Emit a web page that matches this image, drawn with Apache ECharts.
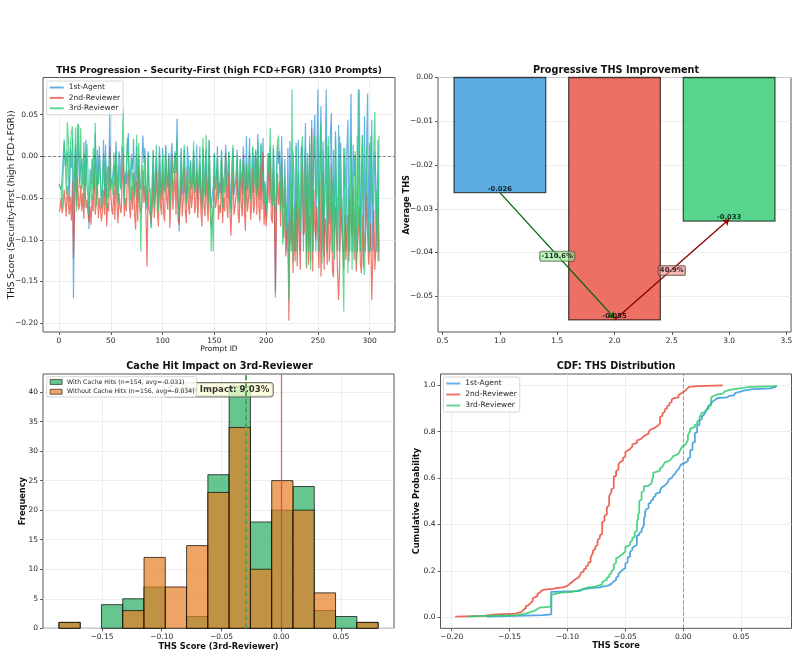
<!DOCTYPE html>
<html>
<head>
<meta charset="utf-8">
<script src="https://cdn.jsdelivr.net/npm/echarts@6.0.0/dist/echarts.min.js"></script>
<style>
html,body{margin:0;padding:0;background:#ffffff;}
#chart{width:799px;height:657px;}
</style>
</head>
<body>
<div id="chart"></div>
<script>
// ---------------- DATA ----------------
const seriesNames = ['1st-Agent', '2nd-Reviewer', '3rd-Reviewer'];

const agent1 = [
-0.033,-0.035,-0.040,-0.026,-0.024,0.020,-0.012,-0.013,0.006,-0.033,
-0.055,0.010,-0.014,0.022,-0.170,-0.020,0.014,-0.045,0.039,-0.007,
-0.033,-0.010,-0.002,-0.034,0.017,-0.034,0.020,-0.035,-0.048,-0.087,
-0.015,-0.033,-0.003,-0.030,-0.040,0.028,-0.045,0.008,-0.033,0.012,
-0.025,-0.062,-0.035,0.020,-0.048,0.014,-0.058,-0.012,-0.040,0.052,
-0.028,-0.034,-0.034,-0.010,-0.033,0.018,-0.013,-0.055,0.006,-0.006,
-0.040,0.012,0.008,-0.048,-0.020,-0.033,0.010,0.028,-0.038,-0.019,
-0.002,-0.016,0.021,-0.046,-0.030,0.012,-0.054,-0.003,-0.034,-0.040,
-0.042,0.025,-0.008,0.010,-0.050,-0.064,0.006,-0.036,-0.046,-0.085,
-0.032,0.008,-0.056,-0.024,-0.001,-0.044,-0.060,0.012,-0.034,-0.048,
0.010,-0.040,-0.034,0.014,-0.026,-0.036,0.004,-0.058,-0.006,0.016,
-0.014,-0.020,0.006,-0.020,0.045,-0.050,-0.090,-0.034,0.010,-0.046,
-0.026,0.008,-0.042,-0.056,0.012,-0.008,-0.033,-0.004,-0.038,-0.022,
0.006,-0.044,-0.034,0.014,-0.052,-0.028,-0.006,-0.040,-0.060,0.010,
-0.012,-0.046,0.008,-0.030,-0.054,0.019,-0.040,-0.062,-0.048,-0.034,
0.004,-0.038,-0.026,0.012,-0.050,-0.032,-0.044,0.008,-0.058,-0.028,
-0.018,0.014,-0.034,-0.050,0.006,-0.040,-0.064,-0.007,0.010,-0.046,
-0.036,-0.024,0.008,-0.044,-0.054,-0.002,-0.032,-0.046,0.012,-0.015,
-0.058,0.024,-0.040,-0.028,0.022,-0.050,-0.036,0.010,-0.044,-0.005,
0.008,-0.046,0.027,-0.034,-0.052,0.016,-0.038,0.022,-0.056,-0.030,
-0.072,-0.040,0.004,-0.030,0.012,-0.048,-0.058,0.010,-0.036,-0.169,
-0.019,0.014,-0.009,0.006,-0.056,0.024,-0.040,-0.062,-0.003,-0.050,
-0.114,0.010,-0.114,0.018,-0.040,-0.114,0.006,-0.030,-0.114,0.016,
-0.114,0.020,-0.050,-0.114,0.012,0.008,-0.114,-0.020,0.040,-0.114,
0.004,-0.114,0.014,-0.066,0.044,-0.114,0.022,0.050,-0.114,0.002,
0.080,-0.114,0.010,0.060,-0.114,0.018,-0.121,-0.010,0.080,-0.114,
0.012,-0.080,0.024,0.052,-0.114,0.008,-0.114,0.030,-0.050,-0.114,
0.038,-0.114,0.016,-0.070,-0.114,0.010,-0.036,-0.114,0.006,0.044,
-0.114,-0.004,0.075,-0.114,0.014,-0.024,0.002,-0.090,-0.114,0.080,
0.010,-0.114,-0.020,0.026,-0.114,0.048,-0.114,0.004,0.075,-0.114,
0.016,-0.114,0.044,-0.114,-0.048,0.006,-0.030,-0.114,0.020,-0.114
];

const reviewer2 = [
-0.066,-0.063,-0.050,-0.068,-0.061,-0.040,-0.056,-0.072,-0.036,-0.057,
-0.070,-0.048,-0.077,-0.030,-0.122,-0.074,0.002,-0.060,-0.025,-0.064,
-0.058,-0.034,-0.066,-0.044,-0.075,-0.020,-0.062,-0.052,-0.068,-0.079,
-0.060,-0.082,-0.045,-0.066,-0.012,-0.070,-0.055,-0.024,-0.074,-0.050,
-0.052,-0.078,-0.064,-0.040,-0.070,-0.018,-0.084,-0.056,-0.066,0.012,
-0.046,-0.064,-0.070,-0.030,-0.076,-0.010,-0.058,-0.080,-0.044,-0.062,
-0.068,-0.032,0.003,-0.072,-0.050,-0.066,-0.026,-0.016,-0.060,-0.074,
-0.036,-0.064,-0.020,-0.070,-0.088,-0.030,-0.078,-0.014,-0.062,-0.068,
-0.060,-0.016,-0.056,-0.034,-0.072,-0.132,-0.040,-0.064,-0.070,-0.080,
-0.062,-0.022,-0.074,-0.050,-0.018,-0.066,-0.084,-0.012,-0.058,-0.070,
-0.020,-0.068,-0.078,-0.010,-0.052,-0.064,-0.002,-0.086,-0.056,0.003,
-0.064,-0.044,-0.018,-0.070,-0.004,-0.076,-0.082,-0.060,-0.022,-0.072,
-0.052,-0.014,-0.066,-0.080,-0.016,-0.058,-0.070,-0.028,-0.062,-0.046,
0.001,-0.068,-0.060,-0.018,-0.074,-0.050,-0.012,-0.064,-0.084,-0.020,
-0.060,-0.072,-0.020,-0.056,-0.078,-0.008,-0.064,-0.086,-0.074,-0.066,
-0.024,-0.062,-0.054,-0.014,-0.076,-0.058,-0.068,-0.003,-0.080,-0.050,
-0.066,0.004,-0.058,-0.074,-0.020,-0.064,-0.095,-0.056,-0.012,-0.070,
-0.060,-0.048,-0.016,-0.070,-0.080,-0.022,-0.058,-0.072,0.002,-0.064,
-0.089,-0.012,-0.066,-0.052,-0.018,-0.076,-0.060,-0.014,-0.068,-0.056,
-0.002,-0.070,-0.004,-0.060,-0.078,-0.010,-0.064,0.005,-0.082,-0.054,
-0.084,-0.064,-0.018,-0.056,-0.001,-0.074,-0.080,-0.020,-0.066,-0.162,
-0.070,-0.020,-0.058,-0.030,-0.084,-0.004,-0.068,-0.098,-0.040,-0.120,
-0.090,-0.078,-0.197,-0.066,-0.104,-0.030,-0.140,-0.080,-0.126,-0.050,
-0.132,-0.060,-0.096,-0.136,-0.044,-0.010,-0.094,-0.090,-0.004,-0.134,
-0.020,-0.130,-0.070,-0.126,0.034,-0.138,-0.040,-0.086,-0.100,-0.060,
-0.060,-0.134,-0.030,-0.144,-0.086,-0.020,-0.136,-0.074,-0.092,-0.130,
-0.040,-0.126,-0.100,-0.010,-0.136,-0.145,-0.090,-0.060,-0.098,-0.140,
-0.172,-0.130,-0.056,-0.082,-0.104,-0.134,-0.070,-0.124,-0.088,-0.070,
-0.126,-0.050,-0.080,-0.096,-0.036,-0.124,-0.064,-0.138,-0.112,-0.094,
-0.060,-0.128,-0.140,-0.070,-0.132,-0.100,-0.088,-0.044,-0.092,-0.130,
-0.130,-0.080,-0.172,-0.124,-0.064,-0.136,-0.110,-0.076,-0.060,-0.125
];

const reviewer3 = [
-0.034,-0.036,-0.039,-0.062,-0.020,0.016,-0.003,-0.045,0.041,0.022,
-0.038,0.012,0.030,0.036,-0.058,-0.012,0.035,-0.066,0.004,0.038,
-0.038,0.034,-0.040,-0.012,-0.060,0.003,-0.036,0.015,-0.018,-0.070,
-0.042,-0.026,-0.052,0.010,-0.038,0.040,-0.060,-0.017,-0.034,-0.002,
-0.027,-0.064,-0.039,0.004,-0.038,-0.004,-0.062,-0.038,-0.050,0.002,
-0.040,-0.026,-0.046,0.005,-0.037,0.006,-0.042,-0.058,-0.009,-0.036,
-0.039,0.014,0.057,-0.058,-0.025,-0.016,0.022,-0.002,-0.040,-0.054,
0.003,-0.040,-0.019,-0.050,-0.036,0.026,-0.060,0.016,-0.027,-0.114,
-0.040,-0.010,-0.046,0.000,-0.038,-0.060,0.004,-0.042,-0.038,-0.086,
-0.036,0.006,-0.062,-0.026,0.014,-0.040,-0.066,0.004,-0.038,-0.052,
0.002,-0.044,-0.039,0.012,-0.027,-0.038,-0.002,-0.064,-0.040,-0.004,
-0.042,-0.028,0.004,-0.020,0.022,-0.056,-0.074,-0.036,0.005,-0.037,
-0.025,0.014,-0.039,-0.058,-0.011,-0.036,-0.050,-0.006,-0.040,-0.028,
0.018,-0.042,-0.038,-0.016,-0.039,-0.026,0.012,-0.044,-0.064,0.022,
-0.038,-0.048,0.026,-0.034,-0.058,0.020,-0.038,-0.114,-0.060,-0.114,
0.003,-0.040,-0.027,-0.001,-0.052,-0.036,-0.018,0.006,-0.062,-0.026,
-0.044,-0.005,-0.036,-0.038,0.005,-0.042,-0.068,-0.034,0.014,-0.039,
-0.040,-0.028,0.002,-0.046,-0.056,-0.004,-0.036,-0.038,-0.003,-0.042,
-0.062,-0.008,-0.042,-0.027,0.004,-0.054,-0.040,0.012,-0.020,-0.034,
0.006,-0.048,0.018,-0.038,-0.039,0.014,-0.042,-0.017,-0.058,-0.034,
-0.064,-0.039,0.004,-0.026,0.034,-0.050,-0.060,0.014,-0.040,-0.070,
-0.038,0.018,0.025,-0.010,-0.066,-0.002,-0.106,-0.094,-0.026,-0.090,
-0.056,-0.096,-0.172,-0.030,-0.114,0.080,-0.126,-0.060,-0.114,0.012,
-0.114,-0.018,-0.070,-0.090,0.004,0.024,-0.076,-0.040,0.010,-0.132,
-0.010,-0.114,0.024,-0.136,0.016,-0.114,0.000,0.024,-0.046,-0.050,
0.024,-0.114,-0.030,0.040,-0.128,0.008,-0.070,-0.044,0.020,-0.114,
0.024,-0.082,-0.060,-0.016,-0.114,-0.026,-0.124,0.024,-0.070,-0.114,
-0.114,0.024,-0.064,-0.050,-0.116,-0.186,0.010,-0.036,-0.040,-0.140,
-0.046,-0.114,0.024,-0.136,-0.020,-0.114,0.006,-0.128,0.024,-0.084,
0.080,-0.114,-0.060,0.024,-0.130,-0.142,-0.074,0.012,-0.066,-0.114,
-0.050,0.024,-0.034,-0.058,0.010,0.053,-0.114,-0.040,-0.126,0.025
];

const barPositions = [1, 2, 3];
const avgTHS = [-0.0263, -0.0554, -0.0328];
const changeLabels = ['-110.6%', '40.9%'];

const histEdges = [-0.186, -0.1682, -0.1504, -0.1326, -0.1148, -0.097, -0.0792, -0.0614, -0.0436, -0.0258, -0.008, 0.0098, 0.0276, 0.0454, 0.0632, 0.081];
const withCacheCounts    = [1, 0, 4, 5, 7, 0, 2, 26, 41, 18, 20, 24, 3, 2, 1];
const withoutCacheCounts = [1, 0, 0, 3, 12, 7, 14, 23, 34, 10, 25, 20, 6, 0, 1];
const cacheMeans = [-0.031, -0.034];
const impactPct = '9.03%';

const progTicksX = [0, 50, 100, 150, 200, 250, 300];
const progTicksY = [-0.2, -0.15, -0.1, -0.05, 0, 0.05];
const barTicksX = [0.5, 1, 1.5, 2, 2.5, 3, 3.5];
const barTicksY = [-0.05, -0.04, -0.03, -0.02, -0.01, 0];
const histTicksX = [-0.15, -0.1, -0.05, 0, 0.05];
const histTicksY = [0, 5, 10, 15, 20, 25, 30, 35, 40];
const cdfTicksX = [-0.2, -0.15, -0.1, -0.05, 0, 0.05];
const cdfTicksY = [0, 0.2, 0.4, 0.6, 0.8, 1.0];

// ---------------- STYLE / LAYOUT ----------------
const FONT = 'DejaVu Sans';
const lineColors = ['#3498db', '#e74c3c', '#2ecc71'];
const lineColorsA = ['rgba(52,152,219,0.75)', 'rgba(231,76,60,0.75)', 'rgba(46,204,113,0.75)'];
const barFill = ['rgba(52,152,219,0.8)', 'rgba(231,76,60,0.8)', 'rgba(46,204,113,0.8)'];
const histFill = ['rgba(39,174,96,0.7)', 'rgba(230,126,34,0.7)'];
const histLine = ['#27ae60', '#e67e22'];

const lim = {
  progX: [-15.45, 324.45], progY: [-0.2105, 0.0945],
  barX: [0.46, 3.54], barY: [-0.05816, 0],
  histX: [-0.1993, 0.0943], histY: [0, 43.05],
  cdfX: [-0.2097, 0.0935], cdfY: [-0.0474, 1.0487]
};

const minus = (s) => s.replace('-', '\u2212');
const fmt = (d) => (v) => minus((Math.abs(v) < 1e-12 ? 0 : v).toFixed(d));

function axis(gridIndex, range, ticks, digits, extra) {
  return Object.assign({
    type: 'value', gridIndex: gridIndex, min: range[0], max: range[1],
    axisLine: { show: false, onZero: false },
    axisTick: { show: true, length: 3, lineStyle: { color: '#333', width: 0.8 }, customValues: ticks },
    axisLabel: { color: '#262626', fontSize: 7.5, fontFamily: FONT, margin: 5, customValues: ticks, formatter: fmt(digits), hideOverlap: false, showMinLabel: true, showMaxLabel: true },
    splitLine: { show: true, lineStyle: { color: '#e9e9e9', width: 0.8 } },
    nameLocation: 'middle',
    nameMoveOverlap: false,
    nameTextStyle: { fontFamily: FONT, fontSize: 7.5, color: '#1a1a1a' }
  }, extra || {});
}
const boldName = { fontFamily: FONT, fontSize: 8.25, fontWeight: 'bold', color: '#111' };

// CDF from the series data
function cdf(arr) {
  const s = arr.slice().sort((a, b) => a - b);
  return s.map((v, i) => [v, (i + 1) / s.length]);
}

const lineArrays = [agent1, reviewer2, reviewer3];

const series = [];

// Panel 1: progression lines
lineArrays.forEach((arr, k) => {
  const s = {
    name: seriesNames[k], type: 'line', xAxisIndex: 0, yAxisIndex: 0,
    data: arr.map((v, i) => [i, v]), showSymbol: false, symbol: 'none',
    lineStyle: { color: lineColors[k], width: 1.2, opacity: 0.75 },
    itemStyle: { color: lineColors[k] }, z: 2 + k
  };
  if (k === 0) {
    s.markLine = { silent: true, symbol: 'none', label: { show: false },
      lineStyle: { color: 'rgba(0,0,0,0.55)', width: 0.8, type: [3, 2] },
      data: [{ yAxis: 0 }] };
  }
  series.push(s);
});

// Panel 2: average bars
series.push({
  type: 'custom', xAxisIndex: 1, yAxisIndex: 1,
  data: avgTHS.map((v, i) => [barPositions[i], v, i]),
  renderItem: (params, api) => {
    const x = api.value(0), v = api.value(1), idx = api.value(2);
    const a = api.coord([x - 0.4, 0]), b = api.coord([x + 0.4, v]);
    return { type: 'rect', shape: { x: a[0], y: Math.min(a[1], b[1]), width: b[0] - a[0], height: Math.abs(b[1] - a[1]) },
      style: { fill: barFill[idx], stroke: 'rgba(0,0,0,0.65)', lineWidth: 1.3 } };
  }, z: 2
});
series.push({
  type: 'scatter', xAxisIndex: 1, yAxisIndex: 1, symbolSize: 0, z: 5,
  data: avgTHS.map((v, i) => [barPositions[i], v]),
  label: { show: true, position: 'top', distance: 0, formatter: (p) => p.value[1].toFixed(3),
    fontFamily: FONT, fontSize: 6.8, fontWeight: 'bold', color: '#000' }
});
const changeBg = ['rgba(144,238,144,0.75)', 'rgba(240,128,128,0.7)'];
const arrowColors = ['#006400', '#8b0000'];
for (let k = 0; k < 2; k++) {
  const x0 = barPositions[k], x1 = barPositions[k + 1];
  const y0 = avgTHS[k], y1 = avgTHS[k + 1];
  series.push({
    type: 'scatter', xAxisIndex: 1, yAxisIndex: 1, symbolSize: 0, z: 6,
    data: [[(x0 + x1) / 2, (y0 + y1) / 2]],
    label: { show: true, position: 'inside', formatter: changeLabels[k], fontFamily: FONT, fontSize: 6.9, fontWeight: 'bold', color: '#000',
      backgroundColor: changeBg[k], borderColor: 'rgba(60,60,60,0.8)', borderWidth: 0.8, borderRadius: 2, padding: [1.5, 1.5, 1, 1.5] },
    markLine: { silent: true, symbol: ['none', 'arrow'], symbolSize: 6, label: { show: false },
      lineStyle: { color: arrowColors[k], width: 1.3, type: 'solid' }, itemStyle: { color: arrowColors[k] },
      data: [[{ coord: [x0, y0] }, { coord: [x1, y1 + 0.0004] }]] }
  });
}

// Panel 3: histogram
const histNames = [
  'With Cache Hits (n=' + withCacheCounts.reduce((a, b) => a + b, 0) + ', avg=' + cacheMeans[0].toFixed(3) + ')',
  'Without Cache Hits (n=' + withoutCacheCounts.reduce((a, b) => a + b, 0) + ', avg=' + cacheMeans[1].toFixed(3) + ')'
];
[withCacheCounts, withoutCacheCounts].forEach((counts, k) => {
  const s = {
    name: histNames[k], type: 'custom', xAxisIndex: 2, yAxisIndex: 2, z: 2 + k,
    itemStyle: { color: histFill[k] },
    data: counts.map((c, i) => [histEdges[i], histEdges[i + 1], c]).filter(d => d[2] > 0),
    renderItem: (params, api) => {
      const a = api.coord([api.value(0), 0]), b = api.coord([api.value(1), api.value(2)]);
      return { type: 'rect', shape: { x: a[0], y: b[1], width: b[0] - a[0], height: a[1] - b[1] },
        style: { fill: histFill[k], stroke: 'rgba(0,0,0,0.7)', lineWidth: 1 } };
    }
  };
  if (k === 1) {
    s.markLine = { silent: true, symbol: 'none', label: { show: false },
      data: [
        { xAxis: cacheMeans[1], lineStyle: { color: histLine[1], width: 1.6, type: [5, 3] } },
        { xAxis: cacheMeans[0], lineStyle: { color: histLine[0], width: 1.6, type: [5, 3] } },
        { xAxis: 0, lineStyle: { color: 'rgba(231,60,50,0.85)', width: 1.2, type: 'solid' } }
      ] };
  }
  series.push(s);
});
series.push({
  type: 'scatter', xAxisIndex: 2, yAxisIndex: 2, symbolSize: 0, z: 3,
  data: [[(lim.histX[0] + lim.histX[1]) / 2, lim.histY[1] * 0.938]],
  label: { show: true, position: 'inside', formatter: 'Cache Impact: ' + impactPct, fontFamily: FONT, fontSize: 8.6, fontWeight: 'bold', color: '#000',
    backgroundColor: 'rgba(255,255,215,0.9)', borderColor: '#555', borderWidth: 1, borderRadius: 3, padding: [2.5, 3.5, 2, 3.5] }
});

// Panel 4: CDF
lineArrays.forEach((arr, k) => {
  const s = {
    name: seriesNames[k], type: 'line', xAxisIndex: 3, yAxisIndex: 3,
    data: cdf(arr), showSymbol: false, symbol: 'none',
    lineStyle: { color: lineColors[k], width: 1.8, opacity: 0.85 },
    itemStyle: { color: lineColors[k] }, z: 2 + k
  };
  if (k === 0) {
    s.markLine = { silent: true, symbol: 'none', label: { show: false },
      lineStyle: { color: 'rgba(231,76,60,0.7)', width: 1, type: [4, 2] },
      data: [{ xAxis: 0 }] };
  }
  series.push(s);
});

const legendBase = {
  orient: 'vertical', selectedMode: false, icon: 'rect',
  itemWidth: 14, itemHeight: 2, itemGap: 1.4,
  padding: [2, 3, 2, 3],
  backgroundColor: 'rgba(255,255,255,0.85)', borderColor: '#cccccc', borderWidth: 0.8, borderRadius: 2,
  textStyle: { fontFamily: FONT, fontSize: 7.5, color: '#262626', lineHeight: 9 }, z: 10
};
const titleStyle = { fontFamily: FONT, fontSize: 9.7, fontWeight: 'bold', color: '#111' };
const titleStyleSmall = Object.assign({}, titleStyle, { fontSize: 9.05 });

const option = {
  animation: false,
  backgroundColor: '#ffffff',
  title: [
    { text: 'THS Progression - Security-First (high FCD+FGR) (310 Prompts)', left: 219, top: 70.5, textAlign: 'center', textVerticalAlign: 'middle', padding: 0, textStyle: titleStyleSmall },
    { text: 'Progressive THS Improvement', left: 616, top: 70.5, textAlign: 'center', textVerticalAlign: 'middle', padding: 0, textStyle: titleStyle },
    { text: 'Cache Hit Impact on 3rd-Reviewer', left: 219.5, top: 366, textAlign: 'center', textVerticalAlign: 'middle', padding: 0, textStyle: titleStyle },
    { text: 'CDF: THS Distribution', left: 616, top: 366, textAlign: 'center', textVerticalAlign: 'middle', padding: 0, textStyle: titleStyle }
  ],
  grid: [
    { left: 43, top: 77.5, width: 352, height: 254.5, show: true, borderColor: '#555', borderWidth: 1, backgroundColor: 'transparent' },
    { left: 438, top: 77.5, width: 353, height: 254.5, show: true, borderColor: '#555', borderWidth: 1, backgroundColor: 'transparent' },
    { left: 43, top: 374, width: 351, height: 254.3, show: true, borderColor: '#555', borderWidth: 1, backgroundColor: 'transparent' },
    { left: 440.5, top: 374, width: 351, height: 254.3, show: true, borderColor: '#555', borderWidth: 1, backgroundColor: 'transparent' }
  ],
  xAxis: [
    axis(0, lim.progX, progTicksX, 0, { name: 'Prompt ID', nameGap: 13.3 }),
    axis(1, lim.barX, barTicksX, 1, { splitLine: { show: false } }),
    axis(2, lim.histX, histTicksX, 2, { name: 'THS Score (3rd-Reviewer)', nameGap: 14.5, nameTextStyle: boldName }),
    axis(3, lim.cdfX, cdfTicksX, 2, { name: 'THS Score', nameGap: 14, nameTextStyle: boldName })
  ],
  yAxis: [
    axis(0, lim.progY, progTicksY, 2, { name: 'THS Score (Security-First (high FCD+FGR))', nameGap: 27, nameRotate: 90,
      nameTextStyle: { fontFamily: FONT, fontSize: 8.9, color: '#1a1a1a' } }),
    axis(1, lim.barY, barTicksY, 2, { name: 'Average THS', nameGap: 27, nameRotate: 90, nameTextStyle: boldName }),
    axis(2, lim.histY, histTicksY, 0, { name: 'Frequency', nameGap: 16, nameRotate: 90, nameTextStyle: boldName }),
    axis(3, lim.cdfY, cdfTicksY, 1, { name: 'Cumulative Probability', nameGap: 19.5, nameRotate: 90, nameTextStyle: boldName })
  ],
  legend: [
    Object.assign({}, legendBase, { left: 46.7, top: 81,
      data: seriesNames.map((n, k) => ({ name: n, itemStyle: { color: lineColorsA[k] } })) }),
    Object.assign({}, legendBase, { left: 443.3, top: 377, itemGap: 2,
      data: seriesNames.map((n, k) => ({ name: n, itemStyle: { color: lineColorsA[k] } })) }),
    Object.assign({}, legendBase, { left: 46.7, top: 376.7, itemWidth: 12, itemHeight: 5, itemGap: 2.3,
      padding: [1.5, 2, 1.5, 3],
      textStyle: { fontFamily: FONT, fontSize: 6.2, color: '#262626', lineHeight: 7.5 },
      data: histNames.map((n, k) => ({ name: n, itemStyle: { color: histFill[k], borderColor: 'rgba(0,0,0,0.7)', borderWidth: 0.8 } })) })
  ],
  series: series
};

const chart = echarts.init(document.getElementById('chart'), null, { renderer: 'canvas' });
chart.setOption(option);
</script>
</body>
</html>
